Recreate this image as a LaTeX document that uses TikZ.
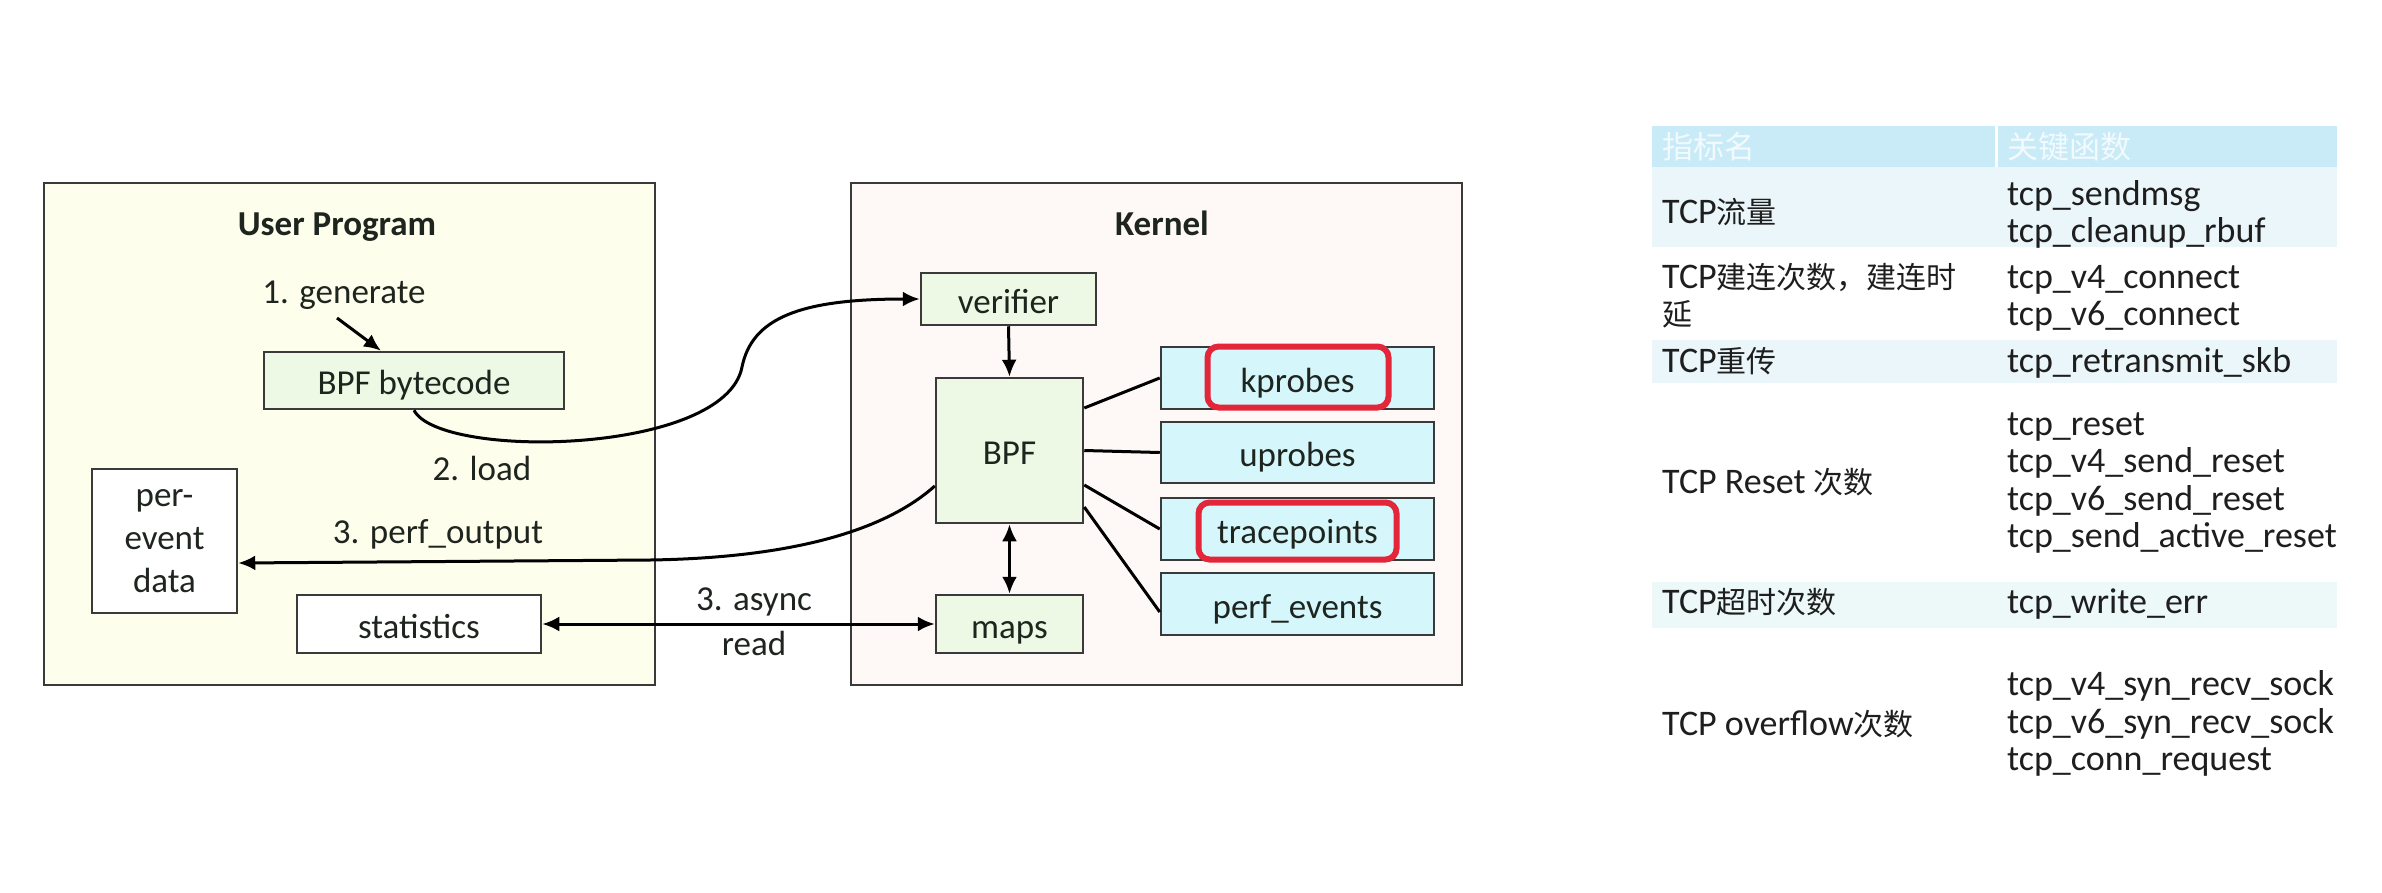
\documentclass[tikz,border=0pt]{standalone}
\usepackage{fontspec}
\setmainfont{Carlito}
\newfontfamily\cjkfont{Noto Sans CJK SC}
\usetikzlibrary{arrows.meta}
\definecolor{userbg}{HTML}{FDFEEC}
\definecolor{kernbg}{HTML}{FEF8F6}
\definecolor{grn}{HTML}{EDF9E4}
\definecolor{cyn}{HTML}{D5F7FC}
\definecolor{bord}{HTML}{3A3A3A}
\definecolor{txt}{HTML}{1E241E}
\definecolor{redc}{HTML}{E3263A}
\definecolor{hdr}{HTML}{C9EBF8}
\definecolor{hdrtxt}{HTML}{F2FAFD}
\definecolor{rowb}{HTML}{EAF6FA}
\definecolor{rowc}{HTML}{EDF8F8}
\definecolor{tbltxt}{HTML}{1E1E1E}
\newcommand\zh[1]{{\fontsize{30}{36}\selectfont\cjkfont #1}}
\begin{document}
\begin{tikzpicture}[x=1pt,y=-1pt,
  dgm/.style={font=\fontsize{35}{42}\selectfont, text=txt},
  box/.style={draw=bord, line width=2.5pt, inner sep=0pt, text height=33pt, text depth=5pt, dgm},
  greenbox/.style={box, fill=grn},
  cyanbox/.style={box, fill=cyn},
  whitebox/.style={box, fill=white},
  outer/.style={draw=bord, line width=2.5pt, inner sep=0pt},
  conn/.style={line width=3pt, draw=black},
  arr/.style={conn, -{Latex[length=17pt,width=15pt]}},
  darr/.style={conn, {Latex[length=17pt,width=15pt]}-{Latex[length=17pt,width=15pt]}},
  lbl/.style={dgm, anchor=base, inner sep=0pt},
  redbox/.style={draw=redc, line width=6pt, rounded corners=11pt, inner sep=0pt},
  tbl/.style={font=\fontsize{36}{40}\selectfont, text=tbltxt, anchor=base west, inner sep=0pt},
  tblh/.style={font=\fontsize{31}{36}\selectfont\cjkfont, text=hdrtxt, anchor=base west, inner sep=0pt}
]
\useasboundingbox[fill=white] (0,0) rectangle (2382,892);

% outer panels
\node[outer, fill=userbg, minimum width=611pt, minimum height=502pt] (user) at (349.5,434) {};
\node[outer, fill=kernbg, minimum width=611pt, minimum height=502pt] (kern) at (1156.5,434) {};
\node[lbl, font=\fontsize{35}{42}\selectfont\bfseries] (usertitle) at (337,235) {User Program};
\node[lbl, font=\fontsize{35}{42}\selectfont\bfseries] (kerntitle) at (1162,235) {Kernel};

% user side
\node[greenbox, minimum width=300pt, minimum height=57pt] (bytecode) at (414,380.5) {BPF bytecode};
\node[box, fill=white, minimum width=145pt, minimum height=144pt, text height=, text depth=, align=center, font=\fontsize{35}{42.5}\selectfont] (perevent) at (164.5,541) {\raisebox{-5pt}{\begin{tabular}{@{}c@{}}per-\\[0.5pt]event\\[0.5pt]data\end{tabular}}};
\node[whitebox, minimum width=244pt, minimum height=58pt] (stats) at (419,624) {statistics};

% kernel side
\node[greenbox, minimum width=175pt, minimum height=52pt] (verifier) at (1008.5,299) {verifier};
\node[greenbox, minimum width=147pt, minimum height=145pt] (bpf) at (1009.5,450.5) {BPF};
\node[greenbox, minimum width=147pt, minimum height=58pt] (maps) at (1009.5,624) {maps};
\node[cyanbox, minimum width=273pt, minimum height=62pt] (kprobes) at (1297.5,378) {kprobes};
\node[cyanbox, minimum width=273pt, minimum height=61pt] (uprobes) at (1297.5,452.5) {uprobes};
\node[cyanbox, minimum width=273pt, minimum height=62pt] (tracepoints) at (1297.5,529) {tracepoints};
\node[cyanbox, minimum width=273pt, minimum height=62pt] (perfevents) at (1297.5,604) {perf\_events};

% labels
\node[lbl] (lgen) at (344,303) {1. generate};
\node[lbl] (lload) at (482,480) {2. load};
\node[lbl] (lperf) at (438,543) {3. perf\_output};
\node[lbl] (lasync) at (754,610) {3. async};
\node[lbl] (lread) at (754,655) {read};

% connectors
\coordinate (g0) at (337,318);
\draw[arr] (g0) -- ([xshift=-33pt]bytecode.north);
\draw[arr] (bytecode.south) .. controls (440,460) and (725,455) .. (742,367)
  .. controls (752,318) and (800,299) .. (verifier.west);
\draw[arr] (verifier.south) -- (bpf.north);
\draw[darr] (bpf.south) -- (maps.north);
\draw[darr] (stats.east) -- (maps.west);
\draw[arr] ([yshift=-35.5pt]bpf.west) .. controls (880,535) and (780,558) .. (650,560)
  -- ([yshift=-22pt]perevent.east);
\draw[conn] ([yshift=42.5pt]bpf.east) -- (kprobes.west);
\draw[conn] (bpf.east) -- (uprobes.west);
\draw[conn] ([yshift=-34.5pt]bpf.east) -- (tracepoints.west);
\draw[conn] ([yshift=-56.5pt]bpf.east) -- ([yshift=-8pt]perfevents.west);

% red highlights
\node[redbox, minimum width=181pt, minimum height=61pt] (kred) at (1298,377) {};
\node[redbox, minimum width=198pt, minimum height=57pt] (tred) at (1297.5,531) {};

% table
\fill[hdr] (1652,126) rectangle (2337,167);
\draw[white, line width=3pt] (1996,126) -- (1996,167);
\fill[rowb] (1652,167) rectangle (2337,247);
\fill[rowb] (1652,340) rectangle (2337,383);
\fill[rowc] (1652,582) rectangle (2337,628);

\node[tblh] (h1) at (1662,158) {指标名};
\node[tblh] (h2) at (2007,158) {关键函数};

\node[tbl] (a1) at (1662,223) {TCP\zh{流量}};
\node[tbl] (a2) at (1662,288) {TCP\zh{建连次数，建连时}};
\node[tbl] (a2b) at (1662,325) {\zh{延}};
\node[tbl] (a3) at (1662,372) {TCP\zh{重传}};
\node[tbl] (a4) at (1662,493) {TCP Reset \zh{次数}};
\node[tbl] (a5) at (1662,613) {TCP\zh{超时次数}};
\node[tbl] (a6) at (1662,735) {TCP overflow\zh{次数}};

\node[tbl] (b1) at (2007,205) {tcp\_sendmsg};
\node[tbl] (b2) at (2007,242) {tcp\_cleanup\_rbuf};
\node[tbl] (b3) at (2007,288) {tcp\_v4\_connect};
\node[tbl] (b4) at (2007,325) {tcp\_v6\_connect};
\node[tbl] (b5) at (2007,372) {tcp\_retransmit\_skb};
\node[tbl] (b6) at (2007,435) {tcp\_reset};
\node[tbl] (b7) at (2007,472) {tcp\_v4\_send\_reset};
\node[tbl] (b8) at (2007,510) {tcp\_v6\_send\_reset};
\node[tbl] (b9) at (2007,547) {tcp\_send\_active\_reset};
\node[tbl] (b10) at (2007,613) {tcp\_write\_err};
\node[tbl] (b11) at (2007,695) {tcp\_v4\_syn\_recv\_sock};
\node[tbl] (b12) at (2007,733) {tcp\_v6\_syn\_recv\_sock};
\node[tbl] (b13) at (2007,770) {tcp\_conn\_request};
\end{tikzpicture}
\end{document}
